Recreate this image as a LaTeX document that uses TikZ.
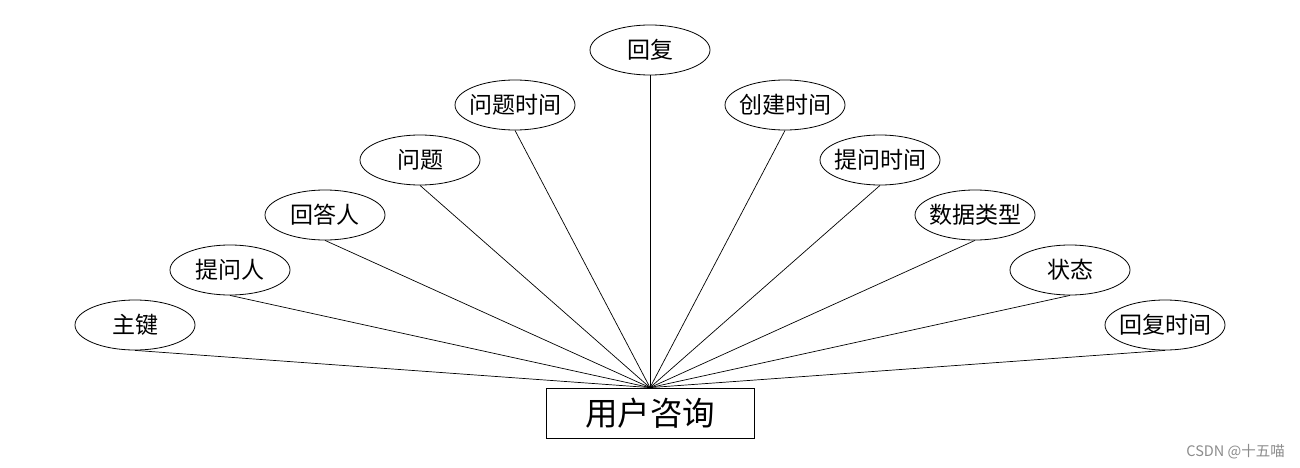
\documentclass[tikz,border=0pt]{standalone}
\usepackage{fontspec}
\setmainfont{Liberation Sans}
\newfontfamily\cjk{Noto Sans CJK SC}
\usetikzlibrary{shapes.geometric}
\tikzset{
  attr/.style={ellipse,draw,line width=0.8pt,minimum width=120pt,minimum height=50pt,inner ysep=0pt,inner xsep=-6pt,font=\cjk\fontsize{23}{26}\selectfont},
  ent/.style={rectangle,draw,line width=0.8pt,minimum width=208pt,minimum height=50pt,inner sep=0pt,font=\cjk\fontsize{32.5}{36}\selectfont},
  conn/.style={line width=0.7pt}
}
\begin{document}
\begin{tikzpicture}[x=1pt,y=-1pt]
\useasboundingbox[fill=white] (0,0) rectangle (1300,468);
\node[ent] (e) at (650,413) {用户咨询};
\node[attr] (a1) at (135,325) {主键};
\node[attr] (a2) at (230,270) {提问人};
\node[attr] (a3) at (325,215) {回答人};
\node[attr] (a4) at (420,160) {问题};
\node[attr] (a5) at (515,105) {问题时间};
\node[attr] (a6) at (650,50) {回复};
\node[attr] (a7) at (785,105) {创建时间};
\node[attr] (a8) at (880,160) {提问时间};
\node[attr] (a9) at (975,215) {数据类型};
\node[attr] (a10) at (1070,270) {状态};
\node[attr] (a11) at (1165,325) {回复时间};
\foreach \i in {1,...,11} \draw[conn] (a\i.south) -- (e.north);
\node[text=black!45,font=\cjk\fontsize{14.5}{16}\selectfont,anchor=east,inner sep=0pt] (wm) at (1285,452) {CSDN @十五喵};
\end{tikzpicture}
\end{document}
